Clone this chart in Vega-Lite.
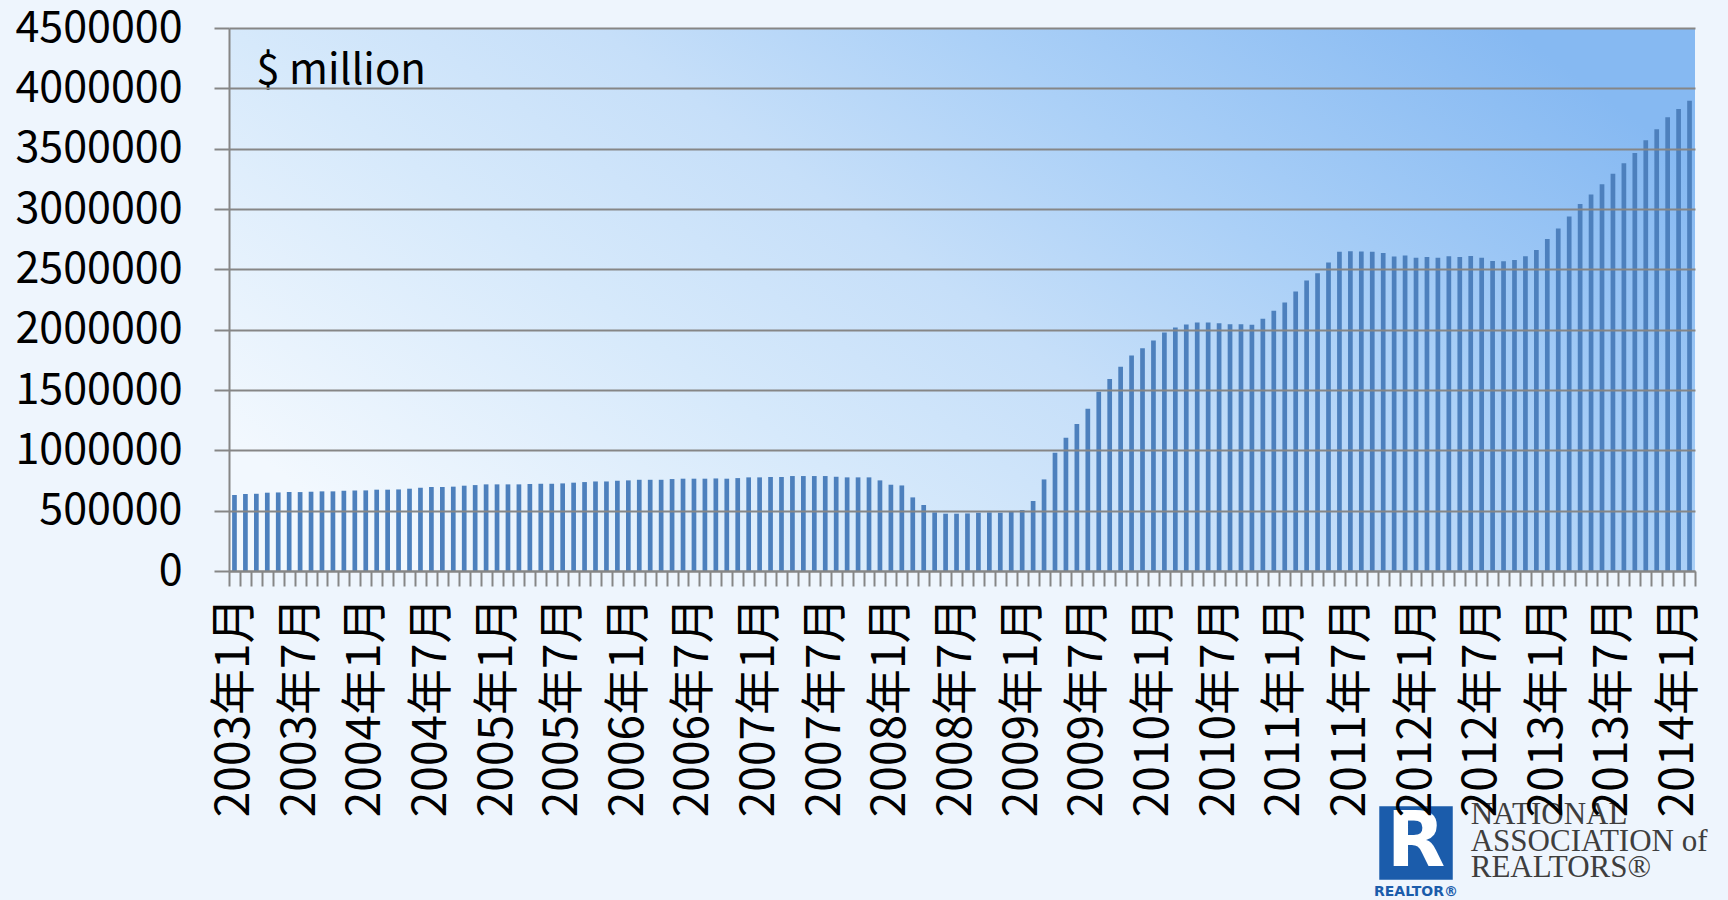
{
  "$schema": "https://vega.github.io/schema/vega-lite/v6.json",
  "autosize": {"type": "none"},
  "width": 1466,
  "height": 543,
  "padding": {"left": 229, "top": 28, "right": 33, "bottom": 329},
  "background": "#EEF5FD",
  "config": {"view": {"stroke": null}},
  "data": {
    "values": [
      {"m": "2003-01", "v": 630000}, {"m": "2003-02", "v": 638000}, {"m": "2003-03", "v": 640000}, {"m": "2003-04", "v": 649000},
      {"m": "2003-05", "v": 651000}, {"m": "2003-06", "v": 654000}, {"m": "2003-07", "v": 654000}, {"m": "2003-08", "v": 657000},
      {"m": "2003-09", "v": 660000}, {"m": "2003-10", "v": 660000}, {"m": "2003-11", "v": 665000}, {"m": "2003-12", "v": 668000},
      {"m": "2004-01", "v": 668000}, {"m": "2004-02", "v": 674000}, {"m": "2004-03", "v": 674000}, {"m": "2004-04", "v": 676000},
      {"m": "2004-05", "v": 682000}, {"m": "2004-06", "v": 690000}, {"m": "2004-07", "v": 696000}, {"m": "2004-08", "v": 696000},
      {"m": "2004-09", "v": 699000}, {"m": "2004-10", "v": 707000}, {"m": "2004-11", "v": 712000}, {"m": "2004-12", "v": 718000},
      {"m": "2005-01", "v": 718000}, {"m": "2005-02", "v": 718000}, {"m": "2005-03", "v": 718000}, {"m": "2005-04", "v": 721000},
      {"m": "2005-05", "v": 723000}, {"m": "2005-06", "v": 723000}, {"m": "2005-07", "v": 726000}, {"m": "2005-08", "v": 732000},
      {"m": "2005-09", "v": 737000}, {"m": "2005-10", "v": 742000}, {"m": "2005-11", "v": 742000}, {"m": "2005-12", "v": 748000},
      {"m": "2006-01", "v": 751000}, {"m": "2006-02", "v": 756000}, {"m": "2006-03", "v": 756000}, {"m": "2006-04", "v": 756000},
      {"m": "2006-05", "v": 762000}, {"m": "2006-06", "v": 765000}, {"m": "2006-07", "v": 765000}, {"m": "2006-08", "v": 765000},
      {"m": "2006-09", "v": 767000}, {"m": "2006-10", "v": 765000}, {"m": "2006-11", "v": 770000}, {"m": "2006-12", "v": 776000},
      {"m": "2007-01", "v": 776000}, {"m": "2007-02", "v": 779000}, {"m": "2007-03", "v": 779000}, {"m": "2007-04", "v": 787000},
      {"m": "2007-05", "v": 787000}, {"m": "2007-06", "v": 787000}, {"m": "2007-07", "v": 787000}, {"m": "2007-08", "v": 781000},
      {"m": "2007-09", "v": 776000}, {"m": "2007-10", "v": 776000}, {"m": "2007-11", "v": 776000}, {"m": "2007-12", "v": 751000},
      {"m": "2008-01", "v": 715000}, {"m": "2008-02", "v": 709000}, {"m": "2008-03", "v": 610000}, {"m": "2008-04", "v": 547000},
      {"m": "2008-05", "v": 486000}, {"m": "2008-06", "v": 475000}, {"m": "2008-07", "v": 475000}, {"m": "2008-08", "v": 477000},
      {"m": "2008-09", "v": 483000}, {"m": "2008-10", "v": 486000}, {"m": "2008-11", "v": 483000}, {"m": "2008-12", "v": 494000},
      {"m": "2009-01", "v": 505000}, {"m": "2009-02", "v": 580000}, {"m": "2009-03", "v": 759000}, {"m": "2009-04", "v": 980000},
      {"m": "2009-05", "v": 1104000}, {"m": "2009-06", "v": 1218000}, {"m": "2009-07", "v": 1345000}, {"m": "2009-08", "v": 1485000},
      {"m": "2009-09", "v": 1592000}, {"m": "2009-10", "v": 1692000}, {"m": "2009-11", "v": 1785000}, {"m": "2009-12", "v": 1846000},
      {"m": "2010-01", "v": 1910000}, {"m": "2010-02", "v": 1976000}, {"m": "2010-03", "v": 2017000}, {"m": "2010-04", "v": 2042000},
      {"m": "2010-05", "v": 2059000}, {"m": "2010-06", "v": 2059000}, {"m": "2010-07", "v": 2053000}, {"m": "2010-08", "v": 2045000},
      {"m": "2010-09", "v": 2045000}, {"m": "2010-10", "v": 2040000}, {"m": "2010-11", "v": 2090000}, {"m": "2010-12", "v": 2156000},
      {"m": "2011-01", "v": 2225000}, {"m": "2011-02", "v": 2316000}, {"m": "2011-03", "v": 2407000}, {"m": "2011-04", "v": 2468000},
      {"m": "2011-05", "v": 2556000}, {"m": "2011-06", "v": 2645000}, {"m": "2011-07", "v": 2650000}, {"m": "2011-08", "v": 2647000},
      {"m": "2011-09", "v": 2645000}, {"m": "2011-10", "v": 2636000}, {"m": "2011-11", "v": 2606000}, {"m": "2011-12", "v": 2614000},
      {"m": "2012-01", "v": 2597000}, {"m": "2012-02", "v": 2603000}, {"m": "2012-03", "v": 2597000}, {"m": "2012-04", "v": 2608000},
      {"m": "2012-05", "v": 2603000}, {"m": "2012-06", "v": 2611000}, {"m": "2012-07", "v": 2595000}, {"m": "2012-08", "v": 2570000},
      {"m": "2012-09", "v": 2567000}, {"m": "2012-10", "v": 2578000}, {"m": "2012-11", "v": 2608000}, {"m": "2012-12", "v": 2661000},
      {"m": "2013-01", "v": 2752000}, {"m": "2013-02", "v": 2838000}, {"m": "2013-03", "v": 2937000}, {"m": "2013-04", "v": 3042000},
      {"m": "2013-05", "v": 3120000}, {"m": "2013-06", "v": 3205000}, {"m": "2013-07", "v": 3293000}, {"m": "2013-08", "v": 3379000},
      {"m": "2013-09", "v": 3464000}, {"m": "2013-10", "v": 3569000}, {"m": "2013-11", "v": 3660000}, {"m": "2013-12", "v": 3760000},
      {"m": "2014-01", "v": 3829000}, {"m": "2014-02", "v": 3897000}
    ]
  },
  "layer": [
    {
      "data": {"values": [{}]},
      "mark": {
        "type": "rect",
        "color": {
          "gradient": "linear",
          "x1": 0, "y1": 0.75, "x2": 1, "y2": 0.25,
          "stops": [
            {"offset": 0, "color": "#F2F8FE"},
            {"offset": 0.3, "color": "#D6E9FB"},
            {"offset": 0.5, "color": "#C6DFF9"},
            {"offset": 0.7, "color": "#ABD0F7"},
            {"offset": 1, "color": "#86B9F2"}
          ]
        }
      },
      "encoding": {}
    },
    {
      "mark": {"type": "bar", "color": "#4D80BD", "width": {"band": 0.43}},
      "encoding": {
        "x": {
          "field": "m", "type": "ordinal",
          "scale": {"paddingInner": 0, "paddingOuter": 0},
          "axis": {
            "title": null,
            "tickBand": "extent",
            "labelAngle": 270,
            "labelExpr": "isString(datum.value) && (slice(datum.value,5)=='01'||slice(datum.value,5)=='07') ? slice(datum.value,0,4)+'年'+toNumber(slice(datum.value,5))+'月' : ''",
            "labelFont": "Noto Sans CJK JP",
            "labelFontSize": 46,
            "labelColor": "#000000",
            "labelPadding": 11,
            "labelLimit": 0,
            "labelOverlap": false,
            "labelBound": false,
            "labelFlush": false,
            "tickSize": 15,
            "tickColor": "#868686",
            "tickWidth": 2,
            "domainColor": "#868686",
            "domainWidth": 2,
            "grid": false,
            "zindex": 1
          }
        },
        "y": {
          "field": "v", "type": "quantitative",
          "scale": {"domain": [0, 4500000], "nice": false},
          "axis": {
            "title": null,
            "values": [0, 500000, 1000000, 1500000, 2000000, 2500000, 3000000, 3500000, 4000000, 4500000],
            "format": "d",
            "labelFont": "Noto Sans CJK JP",
            "labelFontSize": 43,
            "labelColor": "#000000",
            "labelPadding": 32,
            "labelLimit": 0,
            "labelFlush": false,
            "labelBound": false,
            "tickSize": 15,
            "tickColor": "#868686",
            "tickWidth": 2,
            "domainColor": "#868686",
            "domainWidth": 2,
            "grid": true,
            "gridColor": "#868686",
            "gridWidth": 2,
            "zindex": 1
          }
        }
      }
    },
    {
      "data": {"values": [{}]},
      "mark": {"type": "text", "text": "$ million", "align": "left", "baseline": "alphabetic", "font": "Noto Sans CJK JP", "fontSize": 42, "color": "#000000"},
      "encoding": {
        "x": {"datum": "2003-03", "type": "ordinal"},
        "y": {"datum": 4040000, "type": "quantitative"}
      }
    },
    {
      "data": {"values": [{}]},
      "mark": {"type": "point", "shape": "square", "filled": true, "size": 5400, "color": "#1B5CAB", "opacity": 1},
      "encoding": {
        "x": {"datum": "2012-01", "type": "ordinal"},
        "y": {"datum": -2254000, "type": "quantitative"}
      }
    },
    {
      "data": {"values": [{}]},
      "mark": {"type": "text", "text": "R", "align": "center", "baseline": "middle", "font": "DejaVu Sans", "fontWeight": "bold", "fontSize": 76, "color": "#FFFFFF"},
      "encoding": {
        "x": {"datum": "2012-01", "type": "ordinal"},
        "y": {"datum": -2254000, "type": "quantitative"}
      }
    },
    {
      "data": {"values": [{}]},
      "mark": {"type": "text", "text": "REALTOR®", "align": "center", "baseline": "alphabetic", "font": "DejaVu Sans", "fontWeight": "bold", "fontSize": 14, "color": "#1B5CAB"},
      "encoding": {
        "x": {"datum": "2012-01", "type": "ordinal"},
        "y": {"datum": -2697000, "type": "quantitative"}
      }
    },
    {
      "data": {"values": [{}]},
      "mark": {"type": "text", "text": "NATIONAL", "align": "left", "baseline": "alphabetic", "font": "Liberation Serif", "fontSize": 31, "color": "#3E3E3E"},
      "encoding": {
        "x": {"datum": "2012-06", "type": "ordinal"},
        "y": {"datum": -2100000, "type": "quantitative"}
      }
    },
    {
      "data": {"values": [{}]},
      "mark": {"type": "text", "text": "ASSOCIATION of", "align": "left", "baseline": "alphabetic", "font": "Liberation Serif", "fontSize": 31, "color": "#3E3E3E"},
      "encoding": {
        "x": {"datum": "2012-06", "type": "ordinal"},
        "y": {"datum": -2324000, "type": "quantitative"}
      }
    },
    {
      "data": {"values": [{}]},
      "mark": {"type": "text", "text": "REALTORS®", "align": "left", "baseline": "alphabetic", "font": "Liberation Serif", "fontSize": 31, "color": "#3E3E3E"},
      "encoding": {
        "x": {"datum": "2012-06", "type": "ordinal"},
        "y": {"datum": -2532000, "type": "quantitative"}
      }
    }
  ]
}
